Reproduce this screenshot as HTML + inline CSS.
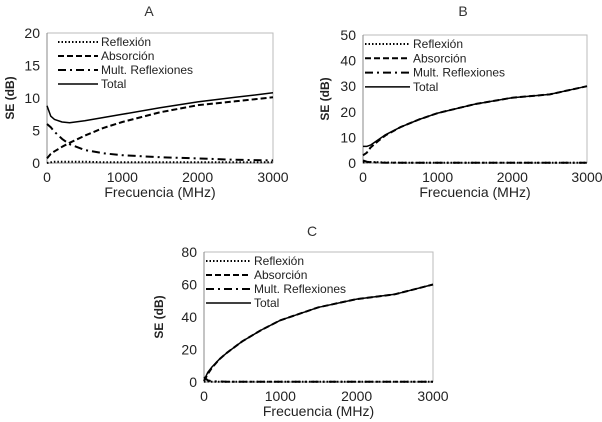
<!DOCTYPE html>
<html><head><meta charset="utf-8"><style>
body{margin:0;background:#fff;width:602px;height:422px;overflow:hidden}
svg{display:block;font-family:"Liberation Sans",sans-serif}
</style></head><body>
<svg id="s" width="602" height="422"></svg>
<script>
const freqs=[0,50,100,200,300,500,750,1000,1500,2000,2500,3000];
const aTotal=[8.8,7.2,6.7,6.3,6.2,6.5,7.0,7.5,8.5,9.4,10.1,10.8];
const aAbs=[0.7,1.4,1.8,2.5,3.1,4.2,5.4,6.3,7.8,8.9,9.5,10.1];
const aMult=[6,5.5,4.8,3.7,2.9,2.0,1.5,1.2,0.9,0.7,0.5,0.4];
const aRefl=[0,0.1,0.2,0.2,0.2,0.2,0.1,0.1,0.1,0.1,0.1,0.1];
const bTotal=[6.5,6.5,7,9,11,14,17,19.5,23,25.5,26.8,30];
const bAbs=[3,4,6,8.5,10.8,14,17,19.5,23,25.5,26.8,30];
const bMult=[1,0.5,0.3,0.2,0.1,0.1,0.1,0.1,0.1,0.1,0.1,0.1];
const bRefl=[0.2,0.3,0.4,0.3,0.2,0.1,0.1,0.1,0.1,0.1,0.1,0.1];
const cTotal=[1,6,9,14,18,25,32,38,46,51,54,60];
const cAbs=[0.5,5,8.5,14,18,25,32,38,46,51,54,60];
const cMult=[3,1,0.5,0.3,0.2,0.1,0.1,0.1,0.1,0.1,0.1,0.1];
const cRefl=[0.2,0.3,0.2,0.1,0.1,0.1,0.1,0.1,0.1,0.1,0.1,0.1];
const xTicks=[0,1000,2000,3000];
const aYTicks=[0,5,10,15,20];
const bYTicks=[0,10,20,30,40,50];
const cYTicks=[0,20,40,60,80];
const legendLabels=["Reflexión","Absorción","Mult. Reflexiones","Total"];
const NS="http://www.w3.org/2000/svg";
const svg=document.getElementById('s');
function el(tag,attrs,parent,text){const e=document.createElementNS(NS,tag);for(const k in attrs)e.setAttribute(k,attrs[k]);if(text!==undefined)e.textContent=text;(parent||svg).appendChild(e);return e;}
const styles=[{dash:"1.5,2",w:2},{dash:"6,3",w:2},{dash:"8,4,2,4",w:2},{dash:"",w:1.5}];
function chart(id,cfg){
  const g=el('g',{});
  
  
  const {x0,x1,y0,y1,ymax,yt,series,title,tx,ty,ytx,xty,leg}=cfg;
  const X=v=>x0+(v/3000)*(x1-x0), Y=v=>y0-(v/ymax)*(y0-y1);
  const t=el('text',{x:tx,y:ty,'text-anchor':'middle','font-size':14,fill:'#333'},g,title);
  
  el('path',{d:`M${x0},${y1}H${x1}V${y0}`,fill:'none',stroke:'#bbb','stroke-width':1},g);
  el('path',{d:`M${x0},${y1}V${y0}H${x1}`,fill:'none',stroke:'#888','stroke-width':1},g);
  yt.forEach(v=>{const l=el('text',{x:x0-7,y:Y(v)+5,'text-anchor':'end','font-size':14,fill:'#222'},g,v);
    });
  xTicks.forEach(v=>{const l=el('text',{x:X(v),y:y0+19,'text-anchor':'middle','font-size':14,fill:'#222'},g,v);
    });
  const xt=el('text',{x:(x0+x1)/2,y:xty,'text-anchor':'middle','font-size':14,fill:'#222'},g,'Frecuencia (MHz)');
  
  const yy=(y0+y1)/2;
  const yl=el('text',{x:ytx,y:yy,'text-anchor':'middle','font-size':12,'font-weight':'bold',fill:'#222',transform:`rotate(-90 ${ytx} ${yy})`},g,'SE (dB)');
  
  series.forEach((s,i)=>{
    const d=freqs.map((f,j)=>(j?'L':'M')+X(f).toFixed(1)+','+Y(s[j]).toFixed(1)).join('');
    const p=el('path',{d,fill:'none',stroke:'#000','stroke-width':styles[i].w,'stroke-dasharray':styles[i].dash,'stroke-linejoin':'round'},g);
    
    
  });
  legendLabels.forEach((lab,i)=>{
    const ly=leg.y+i*leg.dy;
    const lg=el('g',{},g);
    
    el('line',{x1:leg.x,x2:leg.x+leg.w,y1:ly,y2:ly,stroke:'#000','stroke-width':styles[i].w,'stroke-dasharray':styles[i].dash},lg);
    el('text',{x:leg.x+leg.w+3,y:ly+4,'font-size':12,fill:'#222'},lg,lab);
  });
}
chart('a',{x0:47,x1:273,y0:163,y1:33,ymax:20,yt:aYTicks,series:[aRefl,aAbs,aMult,aTotal],title:'A',tx:149,ty:16,ytx:14,xty:197,leg:{x:58,w:40,y:42,dy:14}});
chart('b',{x0:363,x1:587,y0:163,y1:35,ymax:50,yt:bYTicks,series:[bRefl,bAbs,bMult,bTotal],title:'B',tx:463,ty:16,ytx:329,xty:197,leg:{x:365,w:45,y:44,dy:14.3}});
chart('c',{x0:204,x1:433,y0:382,y1:252,ymax:80,yt:cYTicks,series:[cRefl,cAbs,cMult,cTotal],title:'C',tx:312,ty:236,ytx:163,xty:416,leg:{x:206,w:45,y:261,dy:14}});
</script>
</body></html>
